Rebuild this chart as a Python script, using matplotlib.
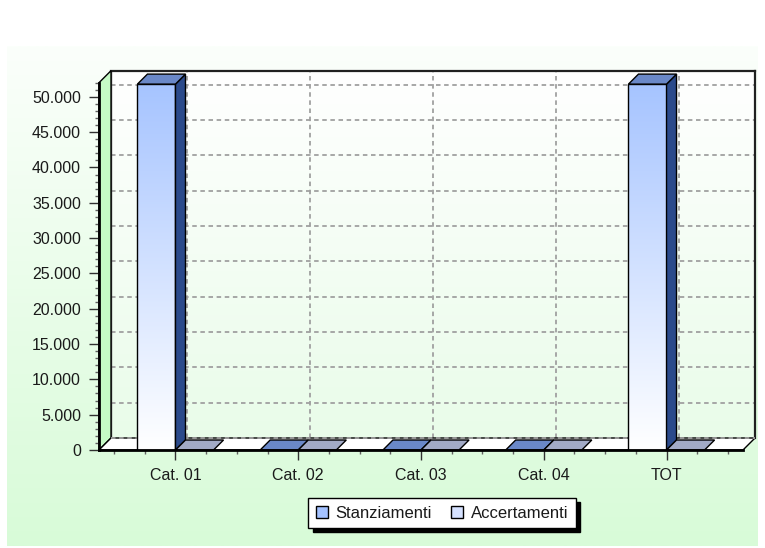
import numpy as np
import matplotlib
matplotlib.use('Agg')
import matplotlib.pyplot as plt
from matplotlib.patches import Polygon, Rectangle, Patch
from matplotlib.transforms import IdentityTransform
from matplotlib.ticker import MultipleLocator, FuncFormatter
from matplotlib.colors import LinearSegmentedColormap

# ---------------- data ----------------
categories = ['Cat. 01', 'Cat. 02', 'Cat. 03', 'Cat. 04', 'TOT']
stanziamenti = [51800, 0, 0, 0, 51800]
accertamenti = [0, 0, 0, 0, 0]
series_names = ['Stanziamenti', 'Accertamenti']
y_ticks = list(range(0, 50001, 5000))

# ---------------- style ----------------
W, H, DPI = 765, 548, 100
plt.rcParams['font.family'] = ['Liberation Sans', 'DejaVu Sans']
TXT = '#1a1a1a'
front_grad = {0: ['#a6c4ff', '#ffffff'], 1: ['#d6e2ff', '#ffffff']}
side_col = {0: '#2b4a8b', 1: '#6c7494'}
top_col = {0: '#6a88c8', 1: '#a2aac6'}
legend_col = ['#a4c2ff', '#d6e2ff']
WALL_D = 12   # px depth of walls
BAR_D = 10    # px depth of bars
BAR_W = 0.31

fig = plt.figure(figsize=(W / DPI, H / DPI), dpi=DPI)
fig.patch.set_facecolor('white')

# background panel with vertical gradient
bg = fig.add_axes([0, 0, 1, 1], zorder=0)
grad = np.linspace(0, 1, 256).reshape(-1, 1)
bg.imshow(grad, cmap=LinearSegmentedColormap.from_list('bg', ['#fbfffb', '#d8fbd8']),
          extent=[7, 758, 546, 46], aspect='auto')
bg.set_xlim(0, W); bg.set_ylim(H, 0); bg.axis('off')

# axes geometry (front plane)
fl, fr, fb, ft = 99, 743, 450, 82.7
pos_front = [fl / W, (H - fb) / H, (fr - fl) / W, (fb - ft) / H]
pos_back = [(fl + WALL_D) / W, (H - fb + WALL_D) / H, (fr - fl) / W, (fb - ft) / H]
XLIM = (-0.623, 4.623)
YLIM = (0, 52000)

# back wall axes
axb = fig.add_axes(pos_back, zorder=1)
axb.imshow(grad, cmap=LinearSegmentedColormap.from_list('bw', ['#ffffff', '#e9fce9']),
           extent=[XLIM[0], XLIM[1], YLIM[0], YLIM[1]], aspect='auto', zorder=0)
axb.set_xlim(*XLIM); axb.set_ylim(*YLIM)
axb.patch.set_visible(False)
axb.set_xticks([]); axb.set_yticks([])
dash = (0, (2.5, 2.0))
GRID = '#a0a0a0'
axb.hlines(y_ticks, XLIM[0], XLIM[1], colors=GRID, linestyles=[dash], linewidth=1.3,
           clip_on=False, zorder=1)
axb.vlines(range(len(categories)), YLIM[0], YLIM[1], colors=GRID, linestyles=[dash],
           linewidth=1.3, zorder=1)
for s in ['top', 'right']:
    axb.spines[s].set_linewidth(1.6); axb.spines[s].set_color('#202020')
axb.spines['left'].set_linewidth(1.0); axb.spines['left'].set_color('#505050')
axb.spines['bottom'].set_visible(False)

# front axes
ax = fig.add_axes(pos_front, zorder=2)
ax.patch.set_visible(False)
ax.set_xlim(*XLIM); ax.set_ylim(*YLIM)

def P(x, y, d=0):
    p = ax.transData.transform((x, y))
    return (p[0] + d, p[1] + d)

def poly(pts, fc, z, ec='black', lw=1.0):
    ax.add_patch(Polygon(pts, closed=True, facecolor=fc, edgecolor=ec, linewidth=lw,
                         transform=IdentityTransform(), clip_on=False, zorder=z))

# left wall and floor
poly([P(XLIM[0], 0), P(XLIM[0], YLIM[1]), P(XLIM[0], YLIM[1], WALL_D), P(XLIM[0], 0, WALL_D)],
     '#c6fbc6', 1.0)
poly([P(XLIM[0], 0), P(XLIM[1], 0), P(XLIM[1], 0, WALL_D), P(XLIM[0], 0, WALL_D)],
     '#ffffff', 1.0)
# zero grid line over floor top edge
ax.plot([P(XLIM[0], 0, WALL_D)[0], P(XLIM[1], 0, WALL_D)[0]],
        [P(XLIM[0], 0, WALL_D)[1]] * 2, color=GRID, lw=1.3, linestyle=dash,
        transform=IdentityTransform(), clip_on=False, zorder=1.1)

# bars
z = 3.0
for i in range(len(categories)):
    for s, vals in enumerate([stanziamenti, accertamenti]):
        v = vals[i]
        x0 = i - BAR_W + s * BAR_W
        x1 = x0 + BAR_W
        if v > 0:
            ax.imshow(grad, cmap=LinearSegmentedColormap.from_list('f%d' % s, front_grad[s]),
                      extent=[x0, x1, 0, v], aspect='auto', zorder=z)
            ax.add_patch(Rectangle((x0, 0), BAR_W, v, fill=False, ec='black', lw=1.0, zorder=z + 0.01))
            poly([P(x1, 0), P(x1, v), P(x1, v, BAR_D), P(x1, 0, BAR_D)], side_col[s], z + 0.02)
        poly([P(x0, v), P(x1, v), P(x1, v, BAR_D), P(x0, v, BAR_D)], top_col[s], z + 0.03)
        z += 0.1
ax.set_xlim(*XLIM); ax.set_ylim(*YLIM)

# spines / ticks
for s in ['top', 'right']:
    ax.spines[s].set_visible(False)
for s in ['left', 'bottom']:
    ax.spines[s].set_linewidth(2.0); ax.spines[s].set_color('black'); ax.spines[s].set_zorder(20)

ax.set_xticks(range(len(categories)))
ax.set_xticklabels(categories)
ax.xaxis.set_minor_locator(MultipleLocator(0.25))
ax.set_yticks(y_ticks)
ax.yaxis.set_major_formatter(FuncFormatter(lambda v, p: f'{int(v):,}'.replace(',', '.')))
ax.yaxis.set_minor_locator(MultipleLocator(1000))
ax.tick_params(which='major', length=7, width=1, direction='out', color='#303030',
               labelsize=11.5, labelcolor=TXT)
ax.tick_params(which='minor', length=3, width=1, direction='out', color='#606060')
ax.tick_params(axis='x', which='major', pad=6)
ax.tick_params(axis='y', which='major', pad=6)

# legend
handles = [Patch(facecolor=legend_col[0], edgecolor='black', linewidth=1),
           Patch(facecolor=legend_col[1], edgecolor='black', linewidth=1)]
leg = fig.legend(handles, series_names, loc='center', bbox_to_anchor=(442 / W, 1 - 513 / H),
                 ncol=2, frameon=True, fancybox=False,
                 shadow={'ox': 3.2, 'oy': -3.2, 'facecolor': 'black', 'edgecolor': 'black', 'alpha': 1},
                 fontsize=12, handlelength=0.7, handleheight=0.75, handletextpad=0.45,
                 columnspacing=1.2, borderpad=0.45, borderaxespad=0, framealpha=1,
                 edgecolor='black')
leg.get_frame().set_linewidth(1.0)
for t in leg.get_texts():
    t.set_color(TXT)

fig.savefig('out.png', dpi=DPI, facecolor='white')
